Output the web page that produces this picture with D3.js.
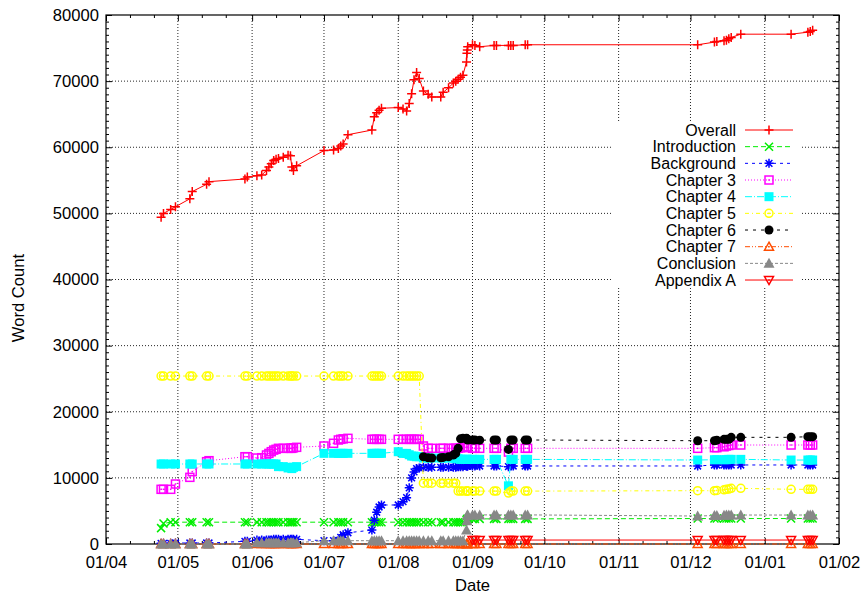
<!DOCTYPE html>
<html><head><meta charset="utf-8">
<script src="https://cdn.jsdelivr.net/npm/d3@7"></script>
<style>
body{margin:0;background:#fff}
svg{display:block}
text{font-family:"Liberation Sans",Arial,Helvetica,sans-serif;fill:#000}
</style>
</head><body>
<svg id="chart" width="864" height="597"></svg>
<script>
// ---------------- DATA ----------------
const dates = [
"2008-04-24","2008-04-25","2008-04-28","2008-04-30","2008-05-06","2008-05-07","2008-05-13","2008-05-14","2008-05-29","2008-05-30",
"2008-06-03","2008-06-05","2008-06-07","2008-06-08","2008-06-09","2008-06-10","2008-06-11","2008-06-12","2008-06-14","2008-06-16",
"2008-06-17","2008-06-17 14","2008-06-18 06","2008-06-19 14",
"2008-07-01","2008-07-05","2008-07-07","2008-07-08","2008-07-09","2008-07-11","2008-07-21","2008-07-22","2008-07-23","2008-07-24","2008-07-25",
"2008-08-01","2008-08-03","2008-08-04 12","2008-08-05 14","2008-08-06 14","2008-08-07 14","2008-08-08 16","2008-08-09 18","2008-08-11 12","2008-08-13 12","2008-08-15","2008-08-18 18","2008-08-19 18","2008-08-22","2008-08-24","2008-08-25","2008-08-26","2008-08-27","2008-08-28",
"2008-08-29 12","2008-08-29 16","2008-08-29 20","2008-08-30","2008-09-01",
"2008-09-02","2008-09-04","2008-09-10","2008-09-11","2008-09-16","2008-09-17","2008-09-18","2008-09-23","2008-09-24",
"2008-12-04","2008-12-11","2008-12-12","2008-12-15","2008-12-16","2008-12-17","2008-12-18","2008-12-22",
"2009-01-12","2009-01-19","2009-01-20","2009-01-21"];

const overall = [
49400,50000,50600,51000,52200,53300,54400,54800,55200,55500,
55700,55800,56500,57000,57500,58000,58200,58300,58500,58800,
58700,57000,56500,57200,
59500,59600,59800,60200,60500,61900,62600,64600,65200,65600,65900,
66000,65800,65500,66600,68100,70200,71300,70400,68500,68000,67600,67600,68300,69000,69700,70000,70300,70600,70900,
72900,74200,74700,75200,75500,
75400,75200,75400,75400,75400,75400,75400,75500,75500,
75500,75900,76000,76100,76200,76400,76600,77100,
77100,77400,77500,77700];

const introduction = [
2400,3100,3300,3300,3300,3300,3300,3300,3300,3300,
3300,3300,3300,3300,3300,3300,3300,3300,3300,3300,
3300,3300,3300,3300,
3300,3300,3300,3300,3300,3300,3300,3300,3300,3300,3300,
3300,3300,3300,3300,3300,3300,3300,3300,3300,3300,3300,3300,3300,3300,3300,3300,3300,3300,3300,
3600,3700,3800,3800,3800,
3800,3800,3800,3800,3800,3800,3800,3800,3800,
3850,3850,3850,3850,3850,3850,3850,3850,
3850,3850,3850,3850];

const background = [
100,100,100,150,150,150,150,150,400,400,
600,600,600,600,600,700,700,700,700,700,
700,700,700,700,
500,500,500,1000,1400,1700,2100,3600,4800,5600,5900,
5900,6400,7000,8500,10000,10900,11400,11500,11600,11600,11600,11600,11600,11600,11600,11600,11700,11700,11700,
11800,11800,11800,11800,11800,
11800,11800,11800,11800,11700,11800,11800,11800,11800,
11800,11950,11950,11950,11950,11950,11950,11950,
11950,11950,11950,11950];

const chapter3 = [
8270,8270,8270,9070,10080,10940,12450,12600,13200,13200,
13000,13050,13460,13700,13960,14200,14320,14470,14470,14470,
14470,14470,14550,14620,
14820,15230,15730,15830,15900,15980,15830,15830,15830,15830,15830,
15830,15830,15830,15830,15830,15830,15830,15830,14820,14470,14470,14470,14470,14470,14470,14470,14470,14550,14600,
14620,14620,14620,14620,14470,
14470,14470,14470,14470,13900,14470,14470,14470,14470,
14470,14570,14570,14700,14820,14900,14970,14970,
14970,14970,14970,14970];

const chapter4 = [
12100,12100,12100,12100,12100,12100,12100,12100,12100,12100,
12100,12100,12100,12100,12100,12100,12100,11700,11700,11500,
11600,11400,11600,11700,
13710,13710,13710,13710,13710,13710,13710,13710,13710,13710,13710,
13960,13700,13700,13500,13300,13300,13200,13200,13000,13000,13000,13000,13000,13000,13000,12900,12900,12800,12800,
12800,12800,12800,12800,12800,
12800,12800,12800,12800,8800,12800,12800,12800,12800,
12700,12750,12750,12750,12750,12800,12800,12800,
12700,12700,12700,12700];

const chapter5 = [
25400,25400,25400,25400,25400,25400,25400,25400,25400,25400,
25400,25400,25400,25400,25400,25400,25400,25400,25400,25400,
25400,25400,25400,25400,
25400,25400,25400,25400,25400,25400,25400,25400,25400,25400,25400,
25400,25400,25400,25400,25400,25400,25400,25400,9200,9200,9200,9200,9200,9200,9200,9200,8000,8000,8000,
8000,8000,8000,8000,8000,
8000,8000,8000,8000,7700,8000,8000,8000,8000,
8060,8060,8100,8200,8270,8300,8420,8420,
8270,8270,8270,8270];

const chapter6 = [
null,null,null,null,null,null,null,null,null,null,
null,null,null,null,null,null,null,null,null,null,
null,null,null,null,
null,null,null,null,null,null,null,null,null,null,null,
null,null,null,null,null,null,null,null,13200,13050,13000,13050,13100,13200,13460,13700,14470,15900,15980,
15980,15900,15800,15730,15730,
15730,15700,15730,15730,14300,15730,15730,15730,15730,
15620,15620,15700,15830,15830,15830,16130,16130,
16130,16230,16230,16230];

const chapter7 = dates.map(() => 0);

const conclusion = [
0,0,0,0,0,0,0,0,0,0,
200,200,200,200,200,200,200,200,200,200,
200,200,200,200,
500,500,500,500,500,500,500,500,500,500,500,
500,500,500,500,500,500,500,500,500,500,500,500,500,500,500,500,500,500,500,
2100,3500,4380,4400,4400,
4400,4400,4400,4400,4400,4400,4400,4400,4400,
4230,4300,4300,4350,4380,4380,4380,4380,
4380,4380,4380,4380];

const appendixA = [
null,null,null,null,null,null,null,null,null,null,
null,null,null,null,null,null,null,null,null,null,
null,null,null,null,
null,null,null,null,null,null,null,null,null,null,null,
null,null,null,null,null,null,null,null,null,null,null,null,null,null,null,null,null,null,null,
null,null,null,null,600,
600,600,600,600,600,600,600,600,600,
600,600,600,600,600,600,600,600,
600,600,600,600];

const seriesNames = ["Overall","Introduction","Background","Chapter 3","Chapter 4","Chapter 5","Chapter 6","Chapter 7","Conclusion","Appendix A"];
const seriesValues = [overall,introduction,background,chapter3,chapter4,chapter5,chapter6,chapter7,conclusion,appendixA];
const xTickFormat = "%d/%m";
const yTickStep = 10000;
const xTitle = "Date";
const yTitle = "Word Count";

// ---------------- STYLES ----------------
const colors = ["#ff0000","#00ee00","#0000ff","#ff00ff","#00ffff","#ffff00","#000000","#ff4d00","#888888","#ff0000"];
const dashes = [null,"5,3","3,4","1,2","7,2,1,2","4,3,1,3","3,5","5,2,1,2,1,2","3,2",null];
const markers = ["plus","cross","star","box","fbox","circle","fcircle","tri","ftri","itri"];

// ---------------- SETUP ----------------
const L = 106, R = 839, T = 15, B = 544;
const svg = d3.select("#chart");
const parseA = d3.timeParse("%Y-%m-%d %H"), parseB = d3.timeParse("%Y-%m-%d");
const parse = s => parseA(s) || parseB(s);
const dts = dates.map(parse);

const x = d3.scaleTime().domain([new Date(2008,3,1), new Date(2009,1,1)]).range([L, R]);
const y = d3.scaleLinear().domain([0, 80000]).range([B, T]);

const majorX = d3.timeMonth.range(new Date(2008,3,1), new Date(2009,1,2));
const minorX = [];
majorX.slice(0,-1).forEach(m => { minorX.push(new Date(m.getFullYear(), m.getMonth(), 11)); minorX.push(new Date(m.getFullYear(), m.getMonth(), 21)); });
const majorY = d3.range(0, 80001, yTickStep);
const minorY = d3.range(0, 80001, 1000).filter(v => v % yTickStep !== 0);

// grid
const grid = svg.append("g").attr("stroke","#000").attr("stroke-width",1).attr("stroke-dasharray","1,2").attr("opacity",0.85);
majorX.slice(1,-1).forEach(d => grid.append("line").attr("x1",x(d)).attr("x2",x(d)).attr("y1",T).attr("y2",B));
majorY.slice(1,-1).forEach(v => grid.append("line").attr("x1",L).attr("x2",R).attr("y1",y(v)).attr("y2",y(v)));

// axes
const fs = 16.6, lfs = 16;
function styleAxis(g){ g.select(".domain").remove(); g.selectAll("text").attr("font-size",fs).attr("font-family","Liberation Sans, Arial, sans-serif").attr("fill","#000"); g.selectAll("line").attr("stroke","#000"); }
svg.append("g").attr("transform",`translate(0,${B})`)
  .call(d3.axisBottom(x).tickValues(majorX).tickFormat(d3.timeFormat(xTickFormat)).tickSize(-6).tickPadding(12)).call(styleAxis);
svg.append("g").attr("transform",`translate(0,${B})`)
  .call(d3.axisBottom(x).tickValues(minorX).tickFormat("").tickSize(-3)).call(styleAxis);
svg.append("g").attr("transform",`translate(0,${T})`)
  .call(d3.axisTop(x).tickValues(majorX).tickFormat("").tickSize(-6)).call(styleAxis);
svg.append("g").attr("transform",`translate(0,${T})`)
  .call(d3.axisTop(x).tickValues(minorX).tickFormat("").tickSize(-3)).call(styleAxis);
svg.append("g").attr("transform",`translate(${L},0)`)
  .call(d3.axisLeft(y).tickValues(majorY).tickFormat(d3.format("d")).tickSize(-6).tickPadding(7)).call(styleAxis);
svg.append("g").attr("transform",`translate(${L},0)`)
  .call(d3.axisLeft(y).tickValues(minorY).tickFormat("").tickSize(-3)).call(styleAxis);
svg.append("g").attr("transform",`translate(${R},0)`)
  .call(d3.axisRight(y).tickValues(majorY).tickFormat("").tickSize(-6)).call(styleAxis);
svg.append("g").attr("transform",`translate(${R},0)`)
  .call(d3.axisRight(y).tickValues(minorY).tickFormat("").tickSize(-3)).call(styleAxis);

// border
svg.append("rect").attr("x",L).attr("y",T).attr("width",R-L).attr("height",B-T).attr("fill","none").attr("stroke","#000").attr("stroke-width",1.2);

// titles
svg.append("text").attr("x",(L+R)/2).attr("y",591).attr("text-anchor","middle").attr("font-size",fs).text(xTitle);
svg.append("text").attr("transform","translate(24,298) rotate(-90)").attr("text-anchor","middle").attr("font-size",fs).text(yTitle);

// marker drawing
function marker(g, type, cx, cy, col){
  const s = 4.5, sw = 1.5;
  const gg = g.append("g").attr("transform",`translate(${cx},${cy})`);
  const dot = () => gg.append("rect").attr("x",-0.75).attr("y",-0.75).attr("width",1.5).attr("height",1.5).attr("fill",col);
  switch(type){
    case "plus": gg.append("path").attr("d",`M${-s},0H${s}M0,${-s}V${s}`).attr("stroke",col).attr("stroke-width",sw).attr("fill","none"); break;
    case "cross": gg.append("path").attr("d",`M${-s+0.5},${-s+0.5}L${s-0.5},${s-0.5}M${-s+0.5},${s-0.5}L${s-0.5},${-s+0.5}`).attr("stroke",col).attr("stroke-width",sw).attr("fill","none"); break;
    case "star": gg.append("path").attr("d",`M${-s},0H${s}M0,${-s}V${s}M${-s*0.75},${-s*0.75}L${s*0.75},${s*0.75}M${-s*0.75},${s*0.75}L${s*0.75},${-s*0.75}`).attr("stroke",col).attr("stroke-width",sw).attr("fill","none"); break;
    case "box": gg.append("rect").attr("x",-s+0.5).attr("y",-s+0.5).attr("width",2*s-1).attr("height",2*s-1).attr("fill","none").attr("stroke",col).attr("stroke-width",sw); dot(); break;
    case "fbox": gg.append("rect").attr("x",-s).attr("y",-s).attr("width",2*s).attr("height",2*s).attr("fill",col); break;
    case "circle": gg.append("circle").attr("r",s-0.5).attr("fill","none").attr("stroke",col).attr("stroke-width",sw); dot(); break;
    case "fcircle": gg.append("circle").attr("r",s).attr("fill",col); break;
    case "tri": gg.append("path").attr("d",`M0,${-s}L${s},${s-1}L${-s},${s-1}Z`).attr("fill","none").attr("stroke",col).attr("stroke-width",sw); dot(); break;
    case "ftri": gg.append("path").attr("d",`M0,${-s-1}L${s+1},${s}L${-s-1},${s}Z`).attr("fill",col); break;
    case "itri": gg.append("path").attr("d",`M0,${s}L${s},${-s+1}L${-s},${-s+1}Z`).attr("fill","none").attr("stroke",col).attr("stroke-width",sw); dot(); break;
  }
}

// series
const plot = svg.append("g");
seriesValues.forEach((vals, i) => {
  const pts = dts.map((d, j) => ({d, v: vals[j]}));
  const line = d3.line().defined(p => p.v != null).x(p => x(p.d)).y(p => y(p.v));
  const g = plot.append("g");
  g.append("path").attr("d", line(pts)).attr("fill","none").attr("stroke",colors[i]).attr("stroke-width",1)
    .attr("stroke-dasharray", dashes[i]);
  pts.filter(p => p.v != null).forEach(p => marker(g, markers[i], x(p.d), y(p.v), colors[i]));
});

// legend
const lg = svg.append("g");
lg.append("rect").attr("x",612).attr("y",121).attr("width",190).attr("height",167).attr("fill","#fff");
seriesNames.forEach((n, i) => {
  const yy = 130 + i * 16.67;
  lg.append("text").attr("x",736).attr("y",yy).attr("dy","0.35em").attr("text-anchor","end").attr("font-size",lfs).text(n);
  lg.append("line").attr("x1",745).attr("x2",793).attr("y1",yy).attr("y2",yy).attr("stroke",colors[i]).attr("stroke-width",1).attr("stroke-dasharray",dashes[i]);
  marker(lg, markers[i], 769, yy, colors[i]);
});
</script>
</body></html>
